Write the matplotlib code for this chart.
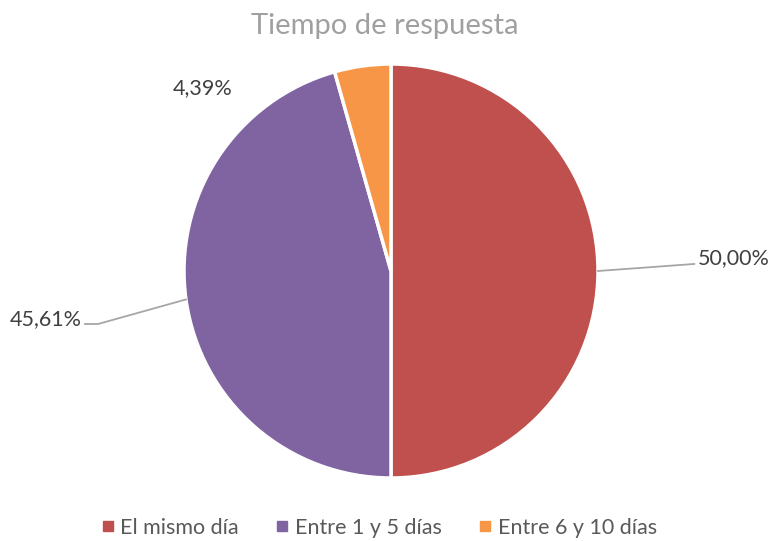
import matplotlib
matplotlib.use('Agg')
import matplotlib.pyplot as plt
import matplotlib.lines as mlines
import numpy as np

plt.rcParams['font.family'] = ['Lato', 'DejaVu Sans']

# Data
categories = ['El mismo día', 'Entre 1 y 5 días', 'Entre 6 y 10 días']
values = [50.00, 45.61, 4.39]
labels = ['50,00%', '45,61%', '4,39%']
colors = ['#C0504D', '#8064A2', '#F79646']

W, H = 774, 541
fig = plt.figure(figsize=(W / 100, H / 100), dpi=100)

# pie axes: centre (391, 271) px, radius 207 px
cx, cy, r = 391, 271, 207
ax = fig.add_axes([(cx - r) / W, (H - cy - r) / H, 2 * r / W, 2 * r / H])
wedges, _ = ax.pie(values, colors=colors, startangle=90, counterclock=False,
                   radius=1, wedgeprops=dict(edgecolor='white', linewidth=2.5))
ax.set_xlim(-1, 1)
ax.set_ylim(-1, 1)
ax.set_aspect('equal')
ax.axis('off')

# Data labels with leader lines
label_text = [(1.48, 0.063, 'left'), (-1.495, -0.232, 'right'), (-0.91, 0.885, 'center')]
elbows = [None, (-1.478, -0.256), None]
bends = [(1.465, 0.034), (-1.415, -0.256), None]
for w, lab, (tx, ty, ha), el, bd in zip(wedges, labels, label_text, elbows, bends):
    mid = np.deg2rad((w.theta1 + w.theta2) / 2)
    ex, ey = np.cos(mid), np.sin(mid)
    if bd is not None:
        xs = [ex, bd[0]]
        ys = [ey, bd[1]]
        if el is not None:
            xs.append(el[0])
            ys.append(el[1])
        ax.add_line(mlines.Line2D(xs, ys, color='#A6A6A6', linewidth=1.3, clip_on=False))
    ax.text(tx, ty, lab, ha=ha, va='center', fontsize=15.5, color='#404040', clip_on=False)

fig.text(0.497, 0.952, 'Tiempo de respuesta', ha='center', va='center',
         fontsize=21, color='#A0A0A0')

handles = [mlines.Line2D([], [], color=c, marker='s', linestyle='None', markersize=7, label=cat)
           for c, cat in zip(colors, categories)]
fig.legend(handles=handles, loc='lower center', bbox_to_anchor=(0.487, -0.03), ncol=3,
           frameon=False, fontsize=15.5, labelcolor='#595959', handletextpad=0.1,
           columnspacing=1.5, handlelength=1.0)

fig.savefig('out.png', dpi=100)
